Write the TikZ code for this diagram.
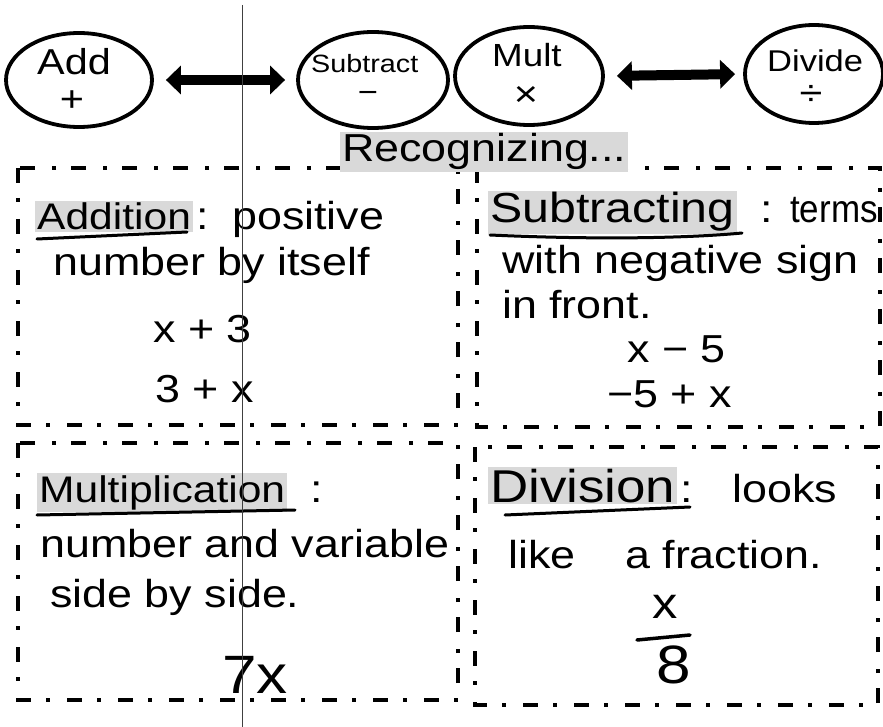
\documentclass[tikz,border=0pt]{standalone}
\usepackage{fontspec}
\setmainfont{Liberation Sans}
\newfontfamily\hand[FakeStretch=1.15]{Liberation Sans}
\usetikzlibrary{shapes.geometric,arrows.meta}
\newcommand{\hs}[1]{\hand\fontsize{#1}{#1}\selectfont}
\begin{document}
\begin{tikzpicture}[x=1pt,y=-1pt,
  oval/.style={ellipse,draw,line width=3.8pt,inner sep=0pt},
  bigarrow/.style={line width=10pt,{Triangle[length=15pt,width=28pt]}-{Triangle[length=15pt,width=28pt]}},
  dbox/.style={line width=4.5pt,dash pattern=on 15pt off 15pt on 4pt off 17pt},
  txt/.style={font=\hs{39},anchor=base west,inner sep=0pt},
  sym/.style={anchor=center,inner sep=0pt},
  hl/.style={fill=gray!30,inner sep=2pt},
  uline/.style={line width=3pt,line cap=round},
]
\useasboundingbox (0,0) rectangle (883,727);
\fill[white] (0,0) rectangle (883,727);

% ---- top row of ovals ----
\node[oval,minimum width=146pt,minimum height=94pt] (add) at (79,80) {};
\node[oval,minimum width=150pt,minimum height=96pt] (sub) at (373,80) {};
\node[oval,minimum width=148pt,minimum height=98pt] (mult) at (529,76) {};
\node[oval,minimum width=138pt,minimum height=98pt] (div) at (814,74) {};

\node[txt,font=\hs{36}] (addt) at (37,75) {Add};
\node[sym,font=\hs{36}] (adds) at (72,101) {+};
\node[txt,font=\hs{25}] (subt) at (311,73) {Subtract};
\node[sym,font=\hs{30}] (subs) at (368,97) {−};
\node[txt,font=\hs{32}] (multt) at (492,67) {Mult};
\node[sym,font=\hs{36}] (mults) at (526,96) {×};
\node[txt,font=\hs{30}] (divt) at (767,72) {Divide};
\node[sym,font=\hs{36}] (divs) at (811,95) {÷};

\draw[bigarrow,shorten <=12pt,shorten >=11pt] (add.east) -- (sub.west);
\draw[bigarrow,shorten <=12pt,shorten >=8pt] (mult.east) -- (div.west);

% ---- dash-dot boxes ----
\draw[dbox] (18,168) rectangle (458,425);
\draw[dbox] (477,168) rectangle (880,427);
\draw[dbox] (18,443) rectangle (458,700);
\draw[dbox] (475,447) rectangle (878,705);

\node[txt,hl] (rec) at (340,162) {Recognizing...};

% ---- Addition ----
\node[txt,hl,font=\hs{37}] (addh) at (35,230) {Addition};
\node[txt] (addc) at (196,230) {:};
\draw[uline] (37,239) -- (187,232);
\node[txt] (add1) at (232,230) {positive};
\node[txt] (add2) at (53,276) {number by itself};
\node[txt] (add3) at (153,342) {x + 3};
\node[txt] (add4) at (155,402) {3 + x};

% ---- Subtracting ----
\node[txt,hl,font=\hs{42}] (subh) at (488,223) {Subtracting};
\draw[uline] (490,235) .. controls (600,240) and (690,238) .. (742,233);
\node[txt] (subc) at (760,223) {:};
\node[txt] (sub0) at (790,223) {\scalebox{0.78}[1]{terms}};
\node[txt] (sub1) at (502,273) {with negative sign};
\node[txt] (sub2) at (502,318) {in front.};
\node[txt] (sub3) at (627,362) {x − 5};
\node[txt] (sub4) at (607,407) {−5 + x};

% ---- Multiplication ----
\node[txt,hl,font=\hs{37}] (mulh) at (37,502) {Multiplication};
\draw[uline] (37,515) -- (295,510);
\node[txt] (mulc) at (310,502) {:};
\node[txt] (mul1) at (40,557) {number and variable};
\node[txt] (mul2) at (50,607) {side by side.};
\node[txt,font=\hs{54}] (mul3) at (222,693) {7x};

% ---- Division ----
\node[txt,hl,font=\hs{46}] (divh) at (488,502) {Division};
\node[txt] (divc) at (680,502) {:};
\draw[uline] (505,515) -- (690,507);
\node[txt] (div0) at (732,502) {looks};
\node[txt] (div1) at (508,568) {like};
\node[txt] (div2) at (625,568) {a fraction.};
\node[sym,font=\hs{44}] (divx) at (665,607) {x};
\draw[line width=3.5pt,line cap=round] (637,640) -- (690,635);
\node[sym,font=\hs{54}] (div8) at (674,665) {8};

% ---- fold line ----
\draw[black!75,line width=0.9pt] (242,5) -- (242,727);
\end{tikzpicture}
\end{document}
